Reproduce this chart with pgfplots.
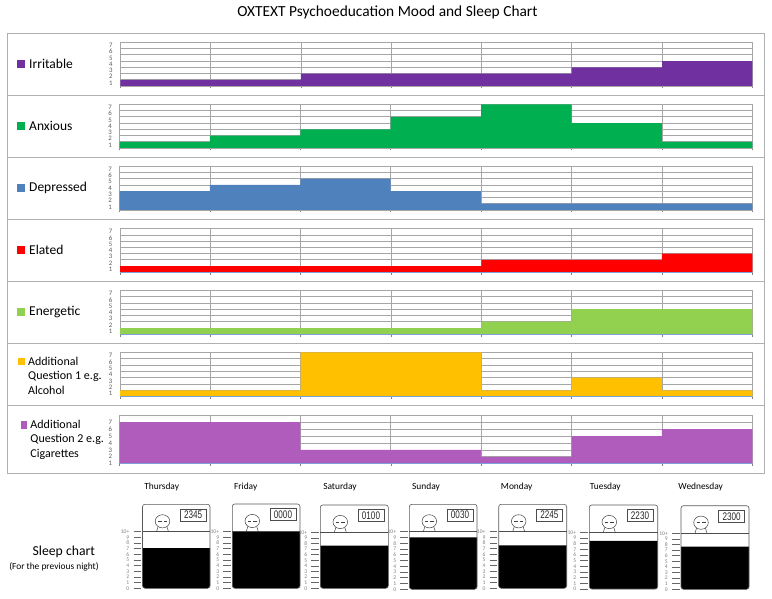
\documentclass[border=0pt]{standalone}
\usepackage{fontspec}
\setmainfont{Carlito}
\newfontfamily\clockfont{Liberation Sans}
\usepackage{graphicx}
\usepackage{pgfplots}
\pgfplotsset{compat=1.18}
\definecolor{cPurple}{HTML}{7030A0}
\definecolor{cGreen}{HTML}{00B050}
\definecolor{cBlue}{HTML}{4F81BD}
\definecolor{cRed}{HTML}{FF0000}
\definecolor{cLime}{HTML}{92D050}
\definecolor{cAmber}{HTML}{FFC000}
\definecolor{cOrchid}{HTML}{B05CBC}
\definecolor{cGrid}{HTML}{A6A6A6}
\definecolor{cFrame}{HTML}{B0B0B0}
\definecolor{cBase}{HTML}{7F9FD8}
\definecolor{cTick}{HTML}{808080}

% one mood panel: top px, bottom px, left px, colour, data, extra options
\newcommand\panel[6]{%
  \pgfmathsetmacro\yB{598-#2}%
  \pgfmathsetmacro\hh{#2-#1}%
  \pgfmathsetmacro\ww{752.3-#3}%
  \begin{axis}[
    at={(#3pt,\yB pt)}, anchor=south west, scale only axis,
    width=\ww pt, height=\hh pt,
    xmin=0, xmax=7, ymin=0, ymax=7,
    xtick={0,1,2,3,4,5,6,7}, xticklabels={},
    ytick={0,1,2,3,4,5,6,7}, yticklabels={},
    extra y ticks={0.5,1.5,2.5,3.5,4.5,5.5,6.5},
    extra y tick labels={1,2,3,4,5,6,7},
    extra y tick style={grid=none},
    xmajorgrids, ymajorgrids,
    grid style={cGrid, line width=0.7pt},
    axis line style={cGrid, line width=0.7pt},
    x axis line style={cGrid},
    tick align=outside, xtick pos=bottom, ytick pos=left,
    x tick style={cTick, line width=0.5pt},
    y tick style={draw=none},
    major tick length=2.5pt,
    yticklabel style={font=\fontsize{6.8}{6.8}\selectfont, text=black!65, inner sep=0pt, xshift=-5pt},
    #6]
    \addplot[const plot, fill=#4, draw=none] coordinates {#5} \closedcycle;
    \addplot[cBase, line width=0.6pt, forget plot] coordinates {(0,\pgfkeysvalueof{/pgfplots/ymin})(7,\pgfkeysvalueof{/pgfplots/ymin})};
  \end{axis}%
}

% one sleep gauge: left, right, top, line, bottom (px), hours, clock text
\newcommand\sleepbox[7]{%
  \pgfmathsetmacro\xL{#1}\pgfmathsetmacro\xR{#2}%
  \pgfmathsetmacro\yT{598-#3}\pgfmathsetmacro\yLn{598-#4}\pgfmathsetmacro\yBt{598-#5}%
  \pgfmathsetmacro\hh{#5-#4}\pgfmathsetmacro\ww{#2-#1}%
  \begin{axis}[
    at={(\xL pt,\yBt pt)}, anchor=south west, scale only axis,
    width=\ww pt, height=\hh pt,
    xmin=0, xmax=1, ymin=0, ymax=10,
    xtick=\empty,
    ytick={0,1,2,3,4,5,6,7,8,9,10},
    yticklabels={0,1,2,3,4,5,6,7,8,9,10+},
    axis line style={draw=none},
    tick align=outside, ytick pos=left,
    y tick style={draw=black!60, line width=0.8pt, xshift=-1.5pt},
    major tick length=7.5pt,
    yticklabel style={font=\fontsize{5.6}{5.6}\selectfont, text=black!50, inner sep=0pt, xshift=-5.5pt},
    ]
    \addplot[const plot, fill=black, draw=none] coordinates {(0,#6)(1,#6)} \closedcycle;
  \end{axis}%
  \fill[white] (\xL pt-0.6pt,\yBt pt-0.6pt) -- (\xL pt-0.6pt,\yBt pt+2.5pt) -- (\xL pt,\yBt pt+2.5pt)
     arc[start angle=180, end angle=270, radius=2.5pt] -- (\xL pt+2.5pt,\yBt pt-0.6pt) -- cycle;
  \fill[white] (\xR pt+0.6pt,\yBt pt-0.6pt) -- (\xR pt+0.6pt,\yBt pt+2.5pt) -- (\xR pt,\yBt pt+2.5pt)
     arc[start angle=0, end angle=-90, radius=2.5pt] -- (\xR pt-2.5pt,\yBt pt-0.6pt) -- cycle;
  \draw[black!65, line width=0.6pt, rounded corners=2.5pt] (\xL pt,\yBt pt) rectangle (\xR pt,\yT pt);
  \draw[black!70, line width=0.6pt] (\xL pt,\yLn pt) -- (\xR pt,\yLn pt);
  \draw[black!75, line width=0.5pt] (\xL pt+20pt,\yT pt-17pt) ellipse (7.3pt and 6.6pt);
  \draw[black!75, line width=0.5pt] (\xL pt+15.5pt,\yT pt-17pt) -- +(3.5pt,0) (\xL pt+21pt,\yT pt-17pt) -- +(3.5pt,0);
  \draw[black!75, line width=0.5pt] (\xL pt+15.5pt,\yT pt-22.5pt) -- (\xL pt+14pt,\yLn pt) (\xL pt+24.5pt,\yT pt-22.5pt) -- (\xL pt+26pt,\yLn pt);
  \draw[black!70, line width=0.8pt] (\xL pt+37.8pt,\yT pt-4.7pt) rectangle (\xL pt+63.6pt,\yT pt-16.7pt);
  \node[inner sep=0pt, font=\clockfont\fontsize{11}{11}\selectfont, text=black!85] at (\xL pt+50.7pt,\yT pt-10.7pt) {\scalebox{0.74}[1]{#7}};
}

% text placed by pixel position
\newcommand\T[4][anchor=center]{%
  \pgfmathsetmacro\yy{598-#3}%
  \node[inner sep=0pt, #1] at (#2pt,\yy pt) {#4};
}
% legend swatch: left, right, centre y
\newcommand\Sw[4]{%
  \pgfmathsetmacro\yy{598-#3}%
  \fill[#4] (#1pt,\yy pt-3.6pt) rectangle (#2pt,\yy pt+3.6pt);
}

\begin{document}
\begin{tikzpicture}
\path[use as bounding box] (0pt,0pt) rectangle (772pt,598pt);

% frame
\draw[cFrame, line width=1pt] (7pt,124.5pt) rectangle (764.5pt,564.7pt);
\foreach \s in {95.3,157.3,219.3,281.2,343.5,405.3}{
  \pgfmathsetmacro\yy{598-\s}
  \draw[cFrame, line width=1pt] (7pt,\yy pt) -- (764.5pt,\yy pt);
}

% title
\T{387.5}{12.5}{\fontsize{15.4}{17}\selectfont OXTEXT Psychoeducation Mood and Sleep Chart}

% panels
\panel{42.3}{86}{120.3}{cPurple}{(0,1)(1,1)(2,2)(3,2)(4,2)(5,3)(6,4)(7,4)}{}
\panel{104.3}{148}{119.5}{cGreen}{(0,1)(1,2)(2,3)(3,5)(4,7)(5,4)(6,1)(7,1)}{}
\panel{166}{210}{119.5}{cBlue}{(0,3)(1,4)(2,5)(3,3)(4,1)(5,1)(6,1)(7,1)}{}
\panel{228.7}{272.3}{120}{cRed}{(0,1)(1,1)(2,1)(3,1)(4,2)(5,2)(6,3)(7,3)}{}
\panel{290.3}{334.3}{120}{cLime}{(0,1)(1,1)(2,1)(3,1)(4,2)(5,4)(6,4)(7,4)}{}
\panel{352.3}{396.7}{120}{cAmber}{(0,1)(1,1)(2,7)(3,7)(4,1)(5,3)(6,1)(7,1)}{}
\panel{415.3}{463.7}{119.7}{cOrchid}{(0,7)(1,7)(2,3)(3,3)(4,2)(5,5)(6,6)(7,6)}{ymin=1, ymax=8,
   ytick={1,2,3,4,5,6,7,8}, extra y ticks={1,2,3,4,5,6,7}}

% panel names
\Sw{17.3}{25}{64}{cPurple}  \T[anchor=west]{29}{63.7}{\fontsize{13.5}{15}\selectfont Irritable}
\Sw{17.3}{25}{126}{cGreen}  \T[anchor=west]{29}{125.7}{\fontsize{13.5}{15}\selectfont Anxious}
\Sw{17.3}{25}{188}{cBlue}   \T[anchor=west]{29}{187.7}{\fontsize{13.5}{15}\selectfont Depressed}
\Sw{17.3}{25}{250}{cRed}    \T[anchor=west]{29}{250}{\fontsize{13.5}{15}\selectfont Elated}
\Sw{17.3}{25}{312}{cLime}   \T[anchor=west]{29}{311.7}{\fontsize{13.5}{15}\selectfont Energetic}
\Sw{18.3}{25}{361.7}{cAmber}
\T[anchor=west]{28}{361.7}{\fontsize{12}{13}\selectfont Additional}
\T[anchor=west]{28}{376}{\fontsize{12}{13}\selectfont Question 1 e.g.}
\T[anchor=west]{28}{390.7}{\fontsize{12}{13}\selectfont Alcohol}
\Sw{20.7}{27}{425}{cOrchid}
\T[anchor=west]{30.3}{424.7}{\fontsize{12}{13}\selectfont Additional}
\T[anchor=west]{30.3}{439.3}{\fontsize{12}{13}\selectfont Question 2 e.g.}
\T[anchor=west]{30.3}{454}{\fontsize{12}{13}\selectfont Cigarettes}

% day names
\T{161.7}{487}{\fontsize{9.4}{10}\selectfont Thursday}
\T{245.7}{487}{\fontsize{9.4}{10}\selectfont Friday}
\T{340}{487}{\fontsize{9.4}{10}\selectfont Saturday}
\T{426}{487}{\fontsize{9.4}{10}\selectfont Sunday}
\T{516.7}{487}{\fontsize{9.4}{10}\selectfont Monday}
\T{605.3}{487}{\fontsize{9.4}{10}\selectfont Tuesday}
\T{700.7}{487}{\fontsize{9.4}{10}\selectfont Wednesday}

\T{63.8}{551.7}{\fontsize{13.7}{15}\selectfont Sleep chart}
\T{54}{567}{\fontsize{9.4}{10}\selectfont (For the previous night)}

% sleep gauges
\sleepbox{142.5}{210}{504.3}{531.7}{588.3}{7.1}{2345}
\sleepbox{232.3}{300}{504}{531.7}{588.3}{10}{0000}
\sleepbox{320.3}{388.3}{505}{532.3}{588.3}{7.6}{0100}
\sleepbox{409.3}{477}{504.3}{531.7}{589.3}{9}{0030}
\sleepbox{498.7}{566.7}{504.3}{531.7}{588.3}{7.6}{2245}
\sleepbox{589.3}{657.7}{505}{532.3}{589}{8.5}{2230}
\sleepbox{681}{749}{505.7}{533.3}{589.3}{7.6}{2300}
\end{tikzpicture}
\end{document}
